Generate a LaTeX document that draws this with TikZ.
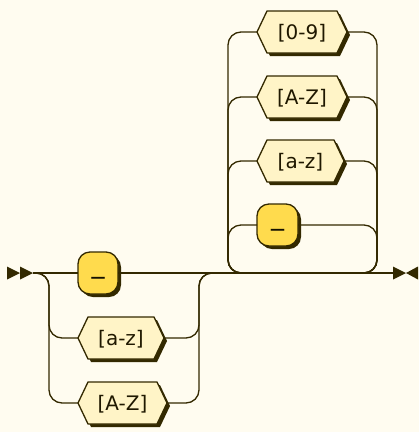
\documentclass[tikz,border=0pt]{standalone}
\usepackage{fontspec}
\usepackage{graphicx}
\setmainfont{DejaVu Sans}
\usetikzlibrary{calc}
\pgfdeclarelayer{bg}
\pgfsetlayers{bg,main}
\definecolor{bgc}{HTML}{FFFCF0}
\definecolor{linec}{HTML}{332900}
\definecolor{hexc}{HTML}{FFF4C7}
\definecolor{termc}{HTML}{FFDB4D}
\definecolor{txtc}{HTML}{1F1800}
\definecolor{ttxtc}{HTML}{141000}
\tikzset{
  rail/.style={draw=linec, line width=1.3pt, rounded corners=13pt},
  regtext/.style={rectangle, inner sep=0pt, outer sep=0pt, minimum height=42pt, text height=14pt, text depth=0pt, text=txtc, font=\fontsize{20}{22}\selectfont},
  termbox/.style={rectangle, rounded corners=12pt, inner sep=0pt, outer sep=0pt, minimum height=42pt, text height=4pt, text depth=0.8pt, fill=termc, draw=linec, line width=1.3pt, text=ttxtc, font=\fontsize{20}{22}\selectfont\bfseries},
  hexline/.style={fill=hexc, draw=linec, line width=1.3pt},
}
\newcommand\hexshape[1]{%
  \fill[linec] ([shift={(3pt,-3pt)}]#1.west) -- ([shift={(13pt,-3pt)}]#1.north west) -- ([shift={(-7pt,-3pt)}]#1.north east) -- ([shift={(3pt,-3pt)}]#1.east) -- ([shift={(-7pt,-3pt)}]#1.south east) -- ([shift={(13pt,-3pt)}]#1.south west) -- cycle;
  \filldraw[hexline] (#1.west) -- ([xshift=10pt]#1.north west) -- ([xshift=-10pt]#1.north east) -- (#1.east) -- ([xshift=-10pt]#1.south east) -- ([xshift=10pt]#1.south west) -- cycle;}
\newcommand\termshadow[1]{%
  \fill[linec, rounded corners=12pt] ([shift={(3pt,-3pt)}]#1.south west) rectangle ([shift={(3pt,-3pt)}]#1.north east);}
\newcommand\wideus{\scalebox{1.35}[1]{\_}}
\begin{document}
\begin{tikzpicture}[x=1pt,y=-1pt]
\useasboundingbox (0,0) rectangle (419,432);
\begin{pgfonlayer}{bg}
\fill[bgc] (0,0) rectangle (419,432);
\end{pgfonlayer}
% nodes
\node[termbox, minimum width=40pt] (t1) at (98,273) {\wideus};
\node[regtext, minimum width=86pt] (a1) at (121,338) {[a-z]};
\node[regtext, minimum width=89pt] (a2) at (122.5,403) {[A-Z]};
\node[regtext, minimum width=90pt] (b0) at (302,32) {[0-9]};
\node[regtext, minimum width=90pt] (b1) at (302,97) {[A-Z]};
\node[regtext, minimum width=87pt] (b2) at (300.5,161) {[a-z]};
\node[termbox, minimum width=41pt] (t2) at (277.5,225) {\wideus};
% shapes behind text
\begin{pgfonlayer}{bg}
\termshadow{t1}
\termshadow{t2}
\hexshape{a1}
\hexshape{a2}
\hexshape{b0}
\hexshape{b1}
\hexshape{b2}
\end{pgfonlayer}
% junction coordinates
\coordinate (st) at (33,273);
\coordinate (en) at (393,273);
\coordinate (c1l) at (49,273);
\coordinate (c1r) at (199,273);
\coordinate (j1) at (228,273);
\coordinate (c2l) at (228,273);
\coordinate (c2r) at (377,273);
\coordinate (j3) at (260,273);
\coordinate (j4) at (350,273);
% start and end marks
\fill[linec] (7,266.5) -- (20,273) -- (7,279.5) -- cycle;
\fill[linec] (20,266.5) -- (33,273) -- (20,279.5) -- cycle;
\fill[linec] (393,266.5) -- (406,273) -- (393,279.5) -- cycle;
\fill[linec] (418,266.5) -- (406,273) -- (418,279.5) -- cycle;
% connectors
\draw[rail] (st) -- (t1.west);
\draw[rail] (t1.east) -- (en);
\draw[rail] (st) -| (c1l |- a1.west) -- (a1.west);
\draw[rail] (st) -| (c1l |- a2.west) -- (a2.west);
\draw[rail] (a1.east) -| (c1r) -- (j1);
\draw[rail] (a2.east) -| (c1r) -- (j1);
\foreach \n in {b0,b1,b2,t2} {
  \draw[rail] (\n.west) -| (c2l) -- (j3);
  \draw[rail] (\n.east) -| (c2r) -- (j4);
}
\end{tikzpicture}
\end{document}
